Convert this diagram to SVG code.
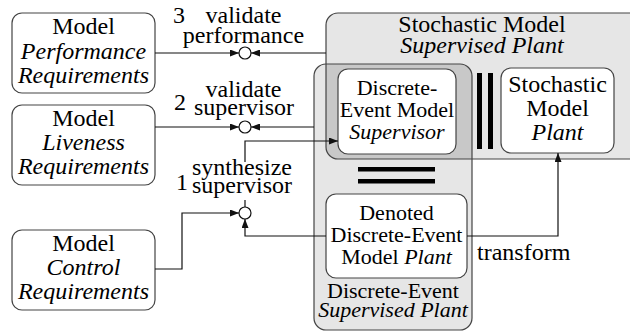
<svg xmlns="http://www.w3.org/2000/svg" width="630" height="332" viewBox="0 0 630 332">
<defs>
<marker id="ah" markerWidth="9" markerHeight="7" refX="9" refY="3.5" orient="auto" markerUnits="userSpaceOnUse">
<path d="M0,0 L9,3.5 L0,7 Z" fill="#111"/>
</marker>
</defs>

<g id="containers">
<g fill="#e6e6e6" stroke="none">
<rect x="326" y="13" width="320" height="146" rx="12"/>
<rect x="314" y="64" width="158" height="266" rx="12"/>
</g>
<path d="M326,64 H460 A12,12 0 0 1 472,76 V159 H338 A12,12 0 0 1 326,147 Z" fill="#c8c8c8"/>
<g fill="none" stroke="#444" stroke-width="1.2">
<rect x="326" y="13" width="320" height="146" rx="12"/>
<rect x="314" y="64" width="158" height="266" rx="12"/>
</g>
</g>

<g id="stochastic-supervised-plant">
<text x="482" y="32" font-family="Liberation Serif, serif" font-size="24" text-anchor="middle">Stochastic Model</text>
<text x="482" y="53" font-family="Liberation Serif, serif" font-size="24" text-anchor="middle" font-style="italic">Supervised Plant</text>
</g>
<g id="de-supervised-plant">
<text x="393" y="298" font-family="Liberation Serif, serif" font-size="22" text-anchor="middle">Discrete-Event</text>
<text x="393" y="317" font-family="Liberation Serif, serif" font-size="22" text-anchor="middle" font-style="italic">Supervised Plant</text>
</g>

<g id="perf-req">
<rect x="12" y="13" width="143" height="80" rx="10" fill="#fff" stroke="#444" stroke-width="1.2"/>
<text x="83.5" y="34" font-family="Liberation Serif, serif" font-size="24" text-anchor="middle">Model</text>
<text x="83.5" y="59" font-family="Liberation Serif, serif" font-size="24" text-anchor="middle" font-style="italic">Performance</text>
<text x="83.5" y="83" font-family="Liberation Serif, serif" font-size="24" text-anchor="middle" font-style="italic">Requirements</text>
</g>
<g id="live-req">
<rect x="12" y="105" width="143" height="80" rx="10" fill="#fff" stroke="#444" stroke-width="1.2"/>
<text x="83.5" y="126" font-family="Liberation Serif, serif" font-size="24" text-anchor="middle">Model</text>
<text x="83.5" y="150" font-family="Liberation Serif, serif" font-size="24" text-anchor="middle" font-style="italic">Liveness</text>
<text x="83.5" y="174" font-family="Liberation Serif, serif" font-size="24" text-anchor="middle" font-style="italic">Requirements</text>
</g>
<g id="ctrl-req">
<rect x="12" y="230" width="143" height="80" rx="10" fill="#fff" stroke="#444" stroke-width="1.2"/>
<text x="83.5" y="251" font-family="Liberation Serif, serif" font-size="24" text-anchor="middle">Model</text>
<text x="83.5" y="275" font-family="Liberation Serif, serif" font-size="24" text-anchor="middle" font-style="italic">Control</text>
<text x="83.5" y="299" font-family="Liberation Serif, serif" font-size="24" text-anchor="middle" font-style="italic">Requirements</text>
</g>

<g id="supervisor">
<rect x="338" y="69" width="118" height="85" rx="10" fill="#fff" stroke="#444" stroke-width="1.2"/>
<text x="397" y="95" font-family="Liberation Serif, serif" font-size="22" text-anchor="middle">Discrete-</text>
<text x="397" y="117" font-family="Liberation Serif, serif" font-size="22" text-anchor="middle">Event Model</text>
<text x="397" y="139" font-family="Liberation Serif, serif" font-size="22" text-anchor="middle" font-style="italic">Supervisor</text>
</g>
<g id="stoch-plant">
<rect x="501" y="68" width="113" height="85" rx="10" fill="#fff" stroke="#444" stroke-width="1.2"/>
<text x="557.5" y="92" font-family="Liberation Serif, serif" font-size="24" text-anchor="middle">Stochastic</text>
<text x="557.5" y="116" font-family="Liberation Serif, serif" font-size="24" text-anchor="middle">Model</text>
<text x="557.5" y="140" font-family="Liberation Serif, serif" font-size="24" text-anchor="middle" font-style="italic">Plant</text>
</g>
<g id="de-plant">
<rect x="326" y="194" width="141" height="84" rx="10" fill="#fff" stroke="#444" stroke-width="1.2"/>
<text x="396.5" y="220" font-family="Liberation Serif, serif" font-size="22" text-anchor="middle">Denoted</text>
<text x="396.5" y="242" font-family="Liberation Serif, serif" font-size="22" text-anchor="middle">Discrete-Event</text>
<text x="396.5" y="264" font-family="Liberation Serif, serif" font-size="22" text-anchor="middle">Model <tspan font-style="italic">Plant</tspan></text>
</g>

<g id="composition-bars" fill="#000">
<rect x="477" y="73" width="5" height="76"/>
<rect x="488" y="73" width="5" height="76"/>
<rect x="358" y="167" width="77" height="4.5"/>
<rect x="358" y="179" width="77" height="4.5"/>
</g>

<g id="connectors" fill="none" stroke="#111" stroke-width="1.2">
<path d="M155,53 H239" marker-end="url(#ah)"/>
<path d="M326,53 H251" marker-end="url(#ah)"/>
<path d="M155,127 H239" marker-end="url(#ah)"/>
<path d="M314,127 H251" marker-end="url(#ah)"/>
<path d="M155,269 H182 V213 H239" marker-end="url(#ah)"/>
<path d="M326,236 H245 V219" marker-end="url(#ah)"/>
<path d="M245,207 V200"/>
<path d="M245,162 V141 H338" marker-end="url(#ah)"/>
<path d="M467,236 H558 V153" marker-end="url(#ah)"/>
<g fill="#fff">
<circle cx="245" cy="53" r="6"/>
<circle cx="245" cy="127" r="6"/>
<circle cx="245" cy="213" r="6"/>
</g>
</g>

<g id="labels">
<text x="173" y="23" font-family="Liberation Serif, serif" font-size="24">3</text>
<text x="243.5" y="23" font-family="Liberation Serif, serif" font-size="24" text-anchor="middle">validate</text>
<text x="243.5" y="43" font-family="Liberation Serif, serif" font-size="24" text-anchor="middle">performance</text>
<text x="174" y="110" font-family="Liberation Serif, serif" font-size="24">2</text>
<text x="243.5" y="97" font-family="Liberation Serif, serif" font-size="24" text-anchor="middle">validate</text>
<text x="244" y="115" font-family="Liberation Serif, serif" font-size="24" text-anchor="middle">supervisor</text>
<text x="176" y="190" font-family="Liberation Serif, serif" font-size="24">1</text>
<text x="242" y="175" font-family="Liberation Serif, serif" font-size="24" text-anchor="middle">synthesize</text>
<text x="242" y="193" font-family="Liberation Serif, serif" font-size="24" text-anchor="middle">supervisor</text>
<text x="477" y="260" font-family="Liberation Serif, serif" font-size="24">transform</text>
</g>
</svg>
